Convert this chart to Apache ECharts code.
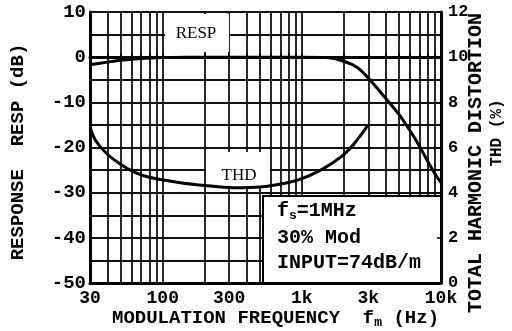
<!DOCTYPE html>
<html>
<head>
<meta charset="utf-8">
<script src="https://cdn.jsdelivr.net/npm/echarts@6/dist/echarts.min.js"></script>
<style>
  html, body { margin: 0; padding: 0; background: #fff; }
  #chart { width: 512px; height: 331px; }
</style>
</head>
<body>
<div id="chart"></div>
<script>
// response curve (dB, left axis)
var respFreq = [30, 40, 50, 70, 100, 150, 300, 1000, 1500, 2000, 2500, 3000, 4000, 5000, 6000, 7000, 8000, 9000, 10000];
var respDb   = [-1.7, -1.1, -0.7, -0.3, -0.1, 0, 0, 0, -0.1, -0.9, -2.3, -4.6, -9.1, -12.7, -16.3, -19.7, -23, -25.7, -27.8];

// THD curve (%, right axis)
var thdFreq = [30, 33, 40, 50, 63, 80, 130, 200, 320, 500, 800, 1000, 1300, 1700, 2000, 2400, 3000];
var thdPct  = [6.9, 6.3, 5.7, 5.25, 4.9, 4.68, 4.45, 4.32, 4.22, 4.25, 4.45, 4.62, 4.93, 5.36, 5.68, 6.2, 7.0];

// log grid lines and tick labels
var gridFreqs = [40, 50, 60, 70, 80, 90, 100, 200, 300, 400, 500, 600, 700, 800, 900,
                 1000, 2000, 3000, 4000, 5000, 6000, 7000, 8000, 9000];
var xLabels = [30, 100, 300, 1000, 3000, 10000];

var mono = 'Liberation Mono';
var serif = 'Liberation Serif';

function pairs(xs, ys) {
    return xs.map(function (x, i) { return [x, ys[i]]; });
}

var myChart = echarts.init(document.getElementById('chart'));

var option = {
    animation: false,
    backgroundColor: '#fff',
    grid: {
        left: 90,
        right: 71,
        top: 12,
        bottom: 48,
        show: false
    },
    xAxis: [
        {
            type: 'log',
            position: 'bottom',
            min: 30,
            max: 10000,
            z: 10,
            axisLine: { lineStyle: { color: '#000', width: 3 } },
            axisTick: {
                inside: true,
                length: 4,
                customValues: gridFreqs,
                lineStyle: { color: '#000', width: 1.5 }
            },
            axisLabel: {
                customValues: xLabels,
                margin: 6,
                color: '#000',
                fontFamily: mono,
                fontWeight: 'bold',
                fontSize: 18,
                formatter: function (v) {
                    return v >= 1000 ? (v / 1000) + 'k' : v;
                }
            },
            splitLine: { show: false }
        },
        {
            type: 'log',
            position: 'top',
            min: 30,
            max: 10000,
            z: 0,
            axisLine: { lineStyle: { color: '#000', width: 3 } },
            axisTick: { show: false, customValues: gridFreqs },
            axisLabel: { show: false },
            splitLine: { show: true, lineStyle: { color: '#111', width: 1.8 } }
        }
    ],
    yAxis: [
        {
            type: 'value',
            position: 'left',
            min: -50,
            max: 10,
            interval: 5,
            z: 0,
            axisLine: { show: true, lineStyle: { color: '#000', width: 3 } },
            axisTick: { show: false },
            axisLabel: {
                margin: 4,
                color: '#000',
                fontFamily: mono,
                fontWeight: 'bold',
                fontSize: 19,
                formatter: function (v) {
                    return v % 10 === 0 ? v : '';
                }
            },
            splitLine: { show: true, lineStyle: { color: '#111', width: 1.8 } }
        },
        {
            type: 'value',
            position: 'right',
            min: 0,
            max: 12,
            interval: 2,
            z: 10,
            axisLine: { show: true, lineStyle: { color: '#000', width: 3 } },
            axisTick: { show: true, inside: true, length: 4, lineStyle: { color: '#000', width: 1.5 } },
            axisLabel: {
                margin: 7,
                color: '#000',
                fontFamily: mono,
                fontWeight: 'bold',
                fontSize: 17
            },
            splitLine: { show: false }
        }
    ],
    series: [
        {
            name: 'RESP',
            type: 'line',
            xAxisIndex: 0,
            yAxisIndex: 0,
            z: 6,
            smooth: 0.3,
            showSymbol: false,
            silent: true,
            lineStyle: { color: '#000', width: 3 },
            data: pairs(respFreq, respDb)
        },
        {
            name: 'THD',
            type: 'line',
            xAxisIndex: 0,
            yAxisIndex: 1,
            z: 6,
            smooth: 0.3,
            showSymbol: false,
            silent: true,
            lineStyle: { color: '#000', width: 3 },
            data: pairs(thdFreq, thdPct)
        }
    ],
    graphic: [
        // curve labels on white patches
        { type: 'rect', z: 5, shape: { x: 165, y: 14, width: 64, height: 38 }, style: { fill: '#fff' } },
        { type: 'text', z: 7, x: 196, y: 34, style: { text: 'RESP', fontFamily: serif, fontSize: 17, fill: '#000', align: 'center', verticalAlign: 'middle' } },
        { type: 'rect', z: 5, shape: { x: 206, y: 152, width: 64, height: 35 }, style: { fill: '#fff' } },
        { type: 'text', z: 7, x: 239, y: 176, style: { text: 'THD', fontFamily: serif, fontSize: 17, fill: '#000', align: 'center', verticalAlign: 'middle' } },

        // conditions box
        { type: 'rect', z: 5, shape: { x: 263, y: 196, width: 178, height: 87 }, style: { fill: '#fff', stroke: '#000', lineWidth: 2 } },
        {
            type: 'text', z: 7, x: 277, y: 211,
            style: {
                text: '{a|f}{s|s}{a|=1MHz}',
                verticalAlign: 'middle',
                rich: {
                    a: { fontFamily: mono, fontWeight: 'bold', fontSize: 20, fill: '#000' },
                    s: { fontFamily: mono, fontWeight: 'bold', fontSize: 13, fill: '#000', padding: [10, 0, 0, 0] }
                }
            }
        },
        { type: 'text', z: 7, x: 277, y: 238, style: { text: '30% Mod', fontFamily: mono, fontWeight: 'bold', fontSize: 20, fill: '#000', verticalAlign: 'middle' } },
        { type: 'text', z: 7, x: 277, y: 263, style: { text: 'INPUT=74dB/m', fontFamily: mono, fontWeight: 'bold', fontSize: 20, fill: '#000', verticalAlign: 'middle' } },

        // axis titles
        {
            type: 'text', z: 7, x: 112, y: 318,
            style: {
                text: '{a|MODULATION FREQUENCY  f}{s|m}{a| (Hz)}',
                verticalAlign: 'middle',
                rich: {
                    a: { fontFamily: mono, fontWeight: 'bold', fontSize: 19, fill: '#000' },
                    s: { fontFamily: mono, fontWeight: 'bold', fontSize: 13, fill: '#000', padding: [10, 0, 0, 0] }
                }
            }
        },
        { type: 'text', z: 7, x: 18, y: 152, rotation: Math.PI / 2, style: { text: 'RESPONSE  RESP (dB)', fontFamily: mono, fontWeight: 'bold', fontSize: 19, fill: '#000', align: 'center', verticalAlign: 'middle' } },
        { type: 'text', z: 7, x: 476, y: 163, rotation: Math.PI / 2, style: { text: 'TOTAL HARMONIC DISTORTION', fontFamily: mono, fontWeight: 'bold', fontSize: 20, fill: '#000', align: 'center', verticalAlign: 'middle' } },
        { type: 'text', z: 7, x: 497, y: 133, rotation: Math.PI / 2, style: { text: 'THD (%)', fontFamily: mono, fontWeight: 'bold', fontSize: 16, fill: '#000', align: 'center', verticalAlign: 'middle' } }
    ]
};

myChart.setOption(option);
</script>
</body>
</html>
